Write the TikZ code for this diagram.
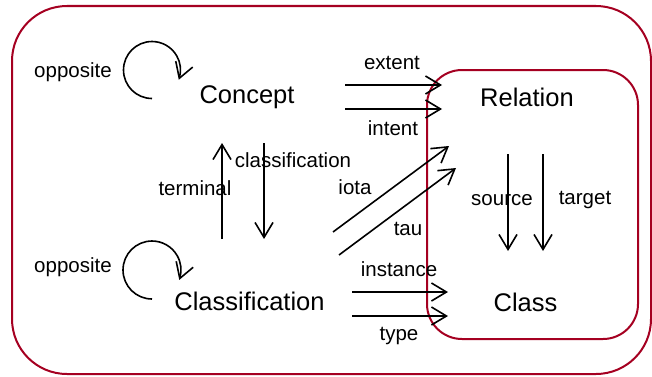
\documentclass[tikz,border=0pt]{standalone}
\usepackage{fontspec}
\setmainfont{Liberation Sans}
\usetikzlibrary{arrows.meta,bending}
\definecolor{boxred}{RGB}{165,0,33}
\begin{document}
\begin{tikzpicture}[x=1pt,y=1pt,
  big/.style={font=\fontsize{25.5}{30}\selectfont, inner sep=0pt},
  lbl/.style={font=\fontsize{20.5}{24}\selectfont, inner sep=0pt},
  arr/.style={line width=1.6pt, arrows={-Straight Barb[length=15pt,width=18pt,line width=1.6pt,flex]}},
  frame/.style={draw=boxred, line width=2pt}]
\useasboundingbox (0,0) rectangle (652,376);
\draw[frame, rounded corners=55pt] (12,2) rectangle (651,370);
\draw[frame, rounded corners=35pt] (427,37) rectangle (638,306);

\node[big] (concept) at (247,279) {Concept};
\node[big] (classif) at (249.5,75) {Classification};
\node[big] (relation) at (527,279) {Relation};
\node[big] (class) at (525.5,74) {Class};

% loops
\coordinate (l1s) at (152,277.5);
\coordinate (l2s) at (152,77);
\draw[arr] (l1s) arc[start angle=270, end angle=-20, radius=28.5];
\draw[arr] (l2s) arc[start angle=270, end angle=-20, radius=29];
\node[lbl] (opp1) at (73,304) {opposite};
\node[lbl] (opp2) at (73,109) {opposite};

% vertical Concept/Classification
\coordinate (t1) at (222,137); \coordinate (t2) at (222,233);
\coordinate (c1) at (264,233); \coordinate (c2) at (264,137);
\draw[arr] (t1) -- (t2);
\draw[arr] (c1) -- (c2);
\node[lbl] (terminal) at (195,188) {terminal};
\node[lbl] (classlbl) at (293,216) {classification};

% extent / intent
\coordinate (e1) at (345,291); \coordinate (e2) at (442,291);
\coordinate (i1) at (345,267); \coordinate (i2) at (442,267);
\draw[arr] (e1) -- (e2);
\draw[arr] (i1) -- (i2);
\node[lbl] (extent) at (392,313) {extent};
\node[lbl] (intent) at (393,248) {intent};

% iota / tau
\coordinate (io1) at (333,144); \coordinate (io2) at (449,230);
\coordinate (ta1) at (339,121); \coordinate (ta2) at (456,208);
\draw[arr] (io1) -- (io2);
\draw[arr] (ta1) -- (ta2);
\node[lbl] (iota) at (355,189) {iota};
\node[lbl] (tau) at (408,147) {tau};

% instance / type
\coordinate (in1) at (352,84); \coordinate (in2) at (448,84);
\coordinate (ty1) at (352,60); \coordinate (ty2) at (448,60);
\draw[arr] (in1) -- (in2);
\draw[arr] (ty1) -- (ty2);
\node[lbl] (instance) at (399,107) {instance};
\node[lbl] (type) at (399,40) {type};

% source / target
\coordinate (s1) at (508,222); \coordinate (s2) at (508,125);
\coordinate (g1) at (543,222); \coordinate (g2) at (543,125);
\draw[arr] (s1) -- (s2);
\draw[arr] (g1) -- (g2);
\node[lbl] (source) at (502,176) {source};
\node[lbl] (target) at (585,176) {target};
\end{tikzpicture}
\end{document}
